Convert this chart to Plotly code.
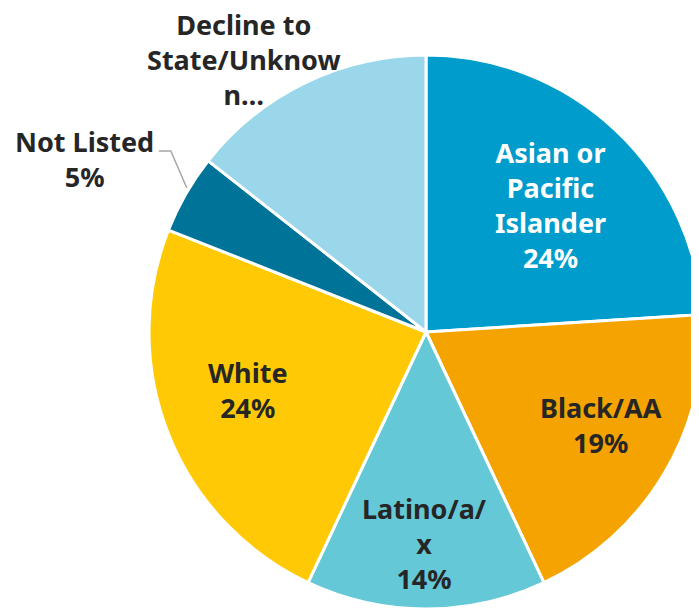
import math
import plotly.graph_objects as go

categories = ["Asian or Pacific Islander", "Black/AA", "Latino/a/x", "White",
              "Not Listed", "Decline to State/Unknown"]
display_labels = ["Asian or<br>Pacific<br>Islander", "Black/AA", "Latino/a/<br>x", "White",
                  "Not Listed", "Decline to<br>State/Unknow<br>n…"]
values = [24, 19, 14, 24, 4.6, 14.4]
show_percent = [True, True, True, True, True, False]
colors = ["#009CCB", "#F4A300", "#65C8D7", "#FFCA05", "#007398", "#9BD7EA"]
text_colors = ["#FFFFFF", "#262626", "#262626", "#262626", "#262626", "#262626"]

# label placement style: radial fraction / angle nudge (deg) for inside labels,
# pixel offsets from the slice edge for outside labels
label_radius = [0.643, 0.715, 0.765, 0.675, 1.0, 1.0]
label_angle = [1.3, -2.6, 0.5, 3.6, 0.0, 0.0]
label_outside = [False, False, False, False, True, True]
label_shift = [(0, 0), (0, 0), (0, 0), (0, 0), (-101, -35), (-61, -23)]
leader = {4: [(1, -6), (-15, -43), (-27, -43)]}

W, H = 699, 608
dom_x = [0.2017, 0.9943]
dom_y = [0.0115, 0.9227]

fig = go.Figure(go.Pie(
    labels=categories,
    values=values,
    sort=False,
    direction="clockwise",
    rotation=0,
    automargin=False,
    textinfo="none",
    marker=dict(colors=colors, line=dict(color="white", width=3)),
    domain=dict(x=dom_x, y=dom_y),
    showlegend=False,
    hoverinfo="label+percent",
))

# label positions derived from the slice angles
total = sum(values)
cx = sum(dom_x) / 2
cy = sum(dom_y) / 2
r_px = min(W * (dom_x[1] - dom_x[0]), H * (dom_y[1] - dom_y[0])) / 2
cum = 0.0
for i, v in enumerate(values):
    mid = (cum + v / 2) / total * 2 * math.pi
    cum += v
    ang = mid + math.radians(label_angle[i])
    rr = r_px * label_radius[i]
    px = cx + rr * math.sin(ang) / W
    py = cy + rr * math.cos(ang) / H
    pct = round(v / total * 100)
    text = display_labels[i] + (f"<br>{pct}%" if show_percent[i] else "")
    font = dict(family="Noto Sans", size=27, color=text_colors[i], weight="bold")
    if not label_outside[i]:
        fig.add_annotation(x=px, y=py, xref="paper", yref="paper", text=text,
                           showarrow=False, font=font, xanchor="center", yanchor="middle")
    else:
        fig.add_annotation(x=px, y=py, xref="paper", yref="paper", text=text,
                           showarrow=False, xshift=label_shift[i][0], yshift=-label_shift[i][1],
                           font=font, xanchor="center", yanchor="middle", borderpad=0)
    if i in leader:
        pts = [(px + dx / W, py - dy / H) for dx, dy in leader[i]]
        path = "M " + " L ".join(f"{x:.5f},{y:.5f}" for x, y in pts)
        fig.add_shape(type="path", path=path, xref="paper", yref="paper",
                      line=dict(color="#A6A6A6", width=1.5))

fig.update_layout(
    width=W, height=H,
    margin=dict(l=0, r=0, t=0, b=0),
    paper_bgcolor="white",
    plot_bgcolor="white",
)

fig.write_html("out.html")
